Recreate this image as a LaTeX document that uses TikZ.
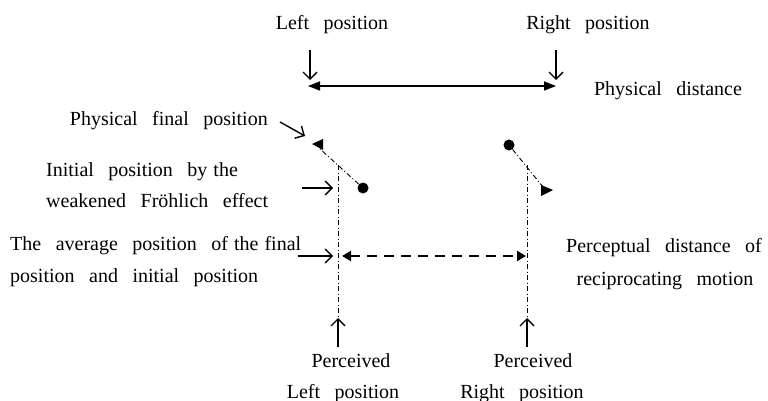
\documentclass[tikz,border=0pt]{standalone}
\usepackage{fontspec}
\setmainfont{Liberation Serif}[WordSpace=2.9]
\usetikzlibrary{arrows.meta}
\newcommand\ns{\hspace{0.3em}}
\begin{document}
\begin{tikzpicture}[x=1pt,y=-1pt,
  lbl/.style={font=\fontsize{20}{23}\selectfont, inner sep=0pt},
  pointer/.style={line width=1.4pt, -{Straight Barb[length=7pt,width=14pt,line width=1.4pt]}},
  dbl/.style={line width=1.5pt, {Triangle[length=12pt,width=9pt]}-{Triangle[length=12pt,width=9pt]}},
  dbldash/.style={line width=2.8pt, dash pattern=on 10pt off 7pt, {Triangle[length=9pt,width=10pt]}-{Triangle[length=9pt,width=10pt]}},
  dashdot/.style={line width=0.9pt, dash pattern=on 5pt off 2.5pt on 1pt off 2.5pt},
  dot/.style={circle, fill, inner sep=0pt, minimum size=11pt}
]
\useasboundingbox (0,0) rectangle (768,401);

% texts
\node[lbl,anchor=base] (tl) at (332,30) {Left position};
\node[lbl,anchor=base] (tr) at (588,30) {Right position};
\node[lbl,anchor=base] (pd) at (668,96) {Physical distance};
\node[lbl,anchor=base east] (pf) at (268,125) {Physical final position};
\node[lbl,anchor=base west] (ip1) at (46,176) {Initial position by\ns the};
\node[lbl,anchor=base west] (ip2) at (46,207) {weakened Fröhlich effect};
\node[lbl,anchor=base west] (av1) at (10,250) {The average position of\ns the\ns final};
\node[lbl,anchor=base west] (av2) at (10,282) {position and initial position};
\node[lbl,anchor=base] (pc1) at (664,252) {Perceptual distance of};
\node[lbl,anchor=base] (pc2) at (665,285) {reciprocating motion};
\node[lbl,anchor=base] (pl1) at (351,367) {Perceived};
\node[lbl,anchor=base] (pl2) at (343,398) {Left position};
\node[lbl,anchor=base] (pr1) at (533,367) {Perceived};
\node[lbl,anchor=base] (pr2) at (522,398) {Right position};

% physical positions
\coordinate (dl0) at (310,50); \coordinate (dl1) at (310,80);
\coordinate (dr0) at (556,50); \coordinate (dr1) at (556,80);
\draw[pointer] (dl0) -- (dl1);
\draw[pointer] (dr0) -- (dr1);
\coordinate (hl) at (308,86); \coordinate (hr) at (556,86);
\draw[dbl] (hl) -- (hr);

% motion markers
\node[dot] (cl) at (363,188) {};
\node[dot] (cr) at (509,145) {};
\coordinate (tlb) at (319,148);
\coordinate (trb) at (543,187);
\draw[dashdot] (cl) -- (tlb);
\draw[dashdot] (cr) -- (trb);
\fill (312,144) -- (323,139) -- (323,150) -- cycle;
\fill (553,190) -- (541,185) -- (541,196) -- cycle;

% perceived verticals
\coordinate (vl0) at (338,165); \coordinate (vl1) at (338,317);
\coordinate (vr0) at (527,165); \coordinate (vr1) at (527,317);
\draw[dashdot] (vl0) -- (vl1);
\draw[dashdot] (vr0) -- (vr1);
\coordinate (ul0) at (338,347); \coordinate (ul1) at (338,318);
\coordinate (ur0) at (527,347); \coordinate (ur1) at (527,318);
\draw[pointer] (ul0) -- (ul1);
\draw[pointer] (ur0) -- (ur1);

% side pointers
\coordinate (pa0) at (280,122); \coordinate (pa1) at (305,136);
\draw[pointer] (pa0) -- (pa1);
\coordinate (ia0) at (302,188); \coordinate (ia1) at (333,188);
\draw[pointer] (ia0) -- (ia1);
\coordinate (aa0) at (298,256); \coordinate (aa1) at (333,256);
\draw[pointer] (aa0) -- (aa1);

% perceptual distance
\coordinate (ql) at (342,256); \coordinate (qr) at (526,256);
\draw[dbldash] (ql) -- (qr);
\end{tikzpicture}
\end{document}
